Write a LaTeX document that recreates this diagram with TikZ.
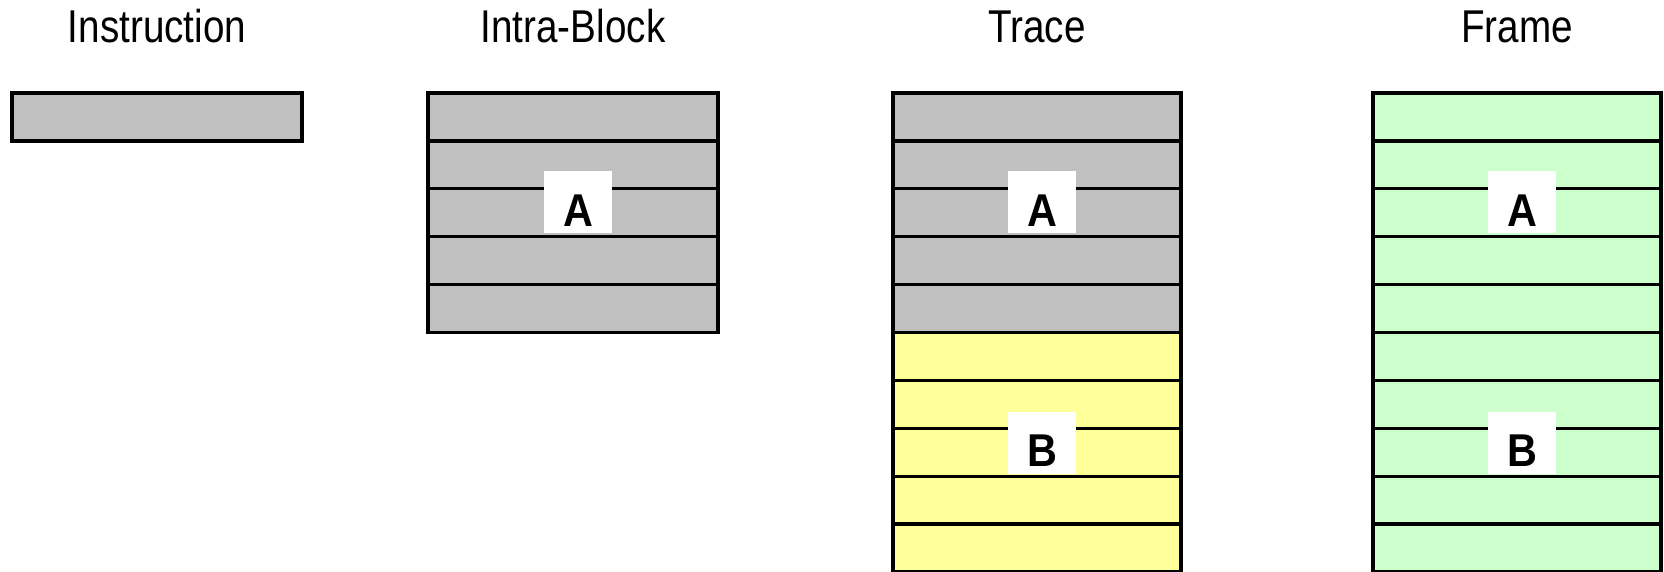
\documentclass[tikz,border=0pt]{standalone}
\usepackage{fontspec}
\setmainfont{Liberation Sans}
\newfontfamily\headfont[FakeStretch=0.84]{Liberation Sans}
\newfontfamily\tagfont[FakeStretch=0.9]{Liberation Sans}
\usetikzlibrary{positioning}

\definecolor{slotgray}{RGB}{192,192,192}
\definecolor{slotyellow}{RGB}{255,255,153}
\definecolor{slotgreen}{RGB}{204,255,204}

\begin{document}
\begin{tikzpicture}[x=0.5pt, y=-0.5pt,
  slot/.style={draw=black, line width=1.65pt},
  heading/.style={anchor=base, inner sep=0pt,
                  font=\headfont\fontsize{23}{23}\selectfont},
  tag/.style={fill=white, inner sep=0pt, minimum width=34pt,
              text height=27.5pt, text depth=3.5pt,
              font=\tagfont\bfseries\fontsize{23}{23}\selectfont}]
  \useasboundingbox (0,0) rectangle (1664,572);

  % Column headings
  \node[heading] (hdinstr) at (157,43)  {Instruction};
  \node[heading] (hdintra) at (573,43)  {Intra-Block};
  \node[heading] (hdtrace) at (1037,43) {Trace};
  \node[heading] (hdframe) at (1517,43) {Frame};

  % Single instruction
  \draw[slot, fill=slotgray] (12,93) rectangle (302,141);

  % Intra-block: one block of five slots
  \foreach \i in {0,...,4} {
    \draw[slot, fill=slotgray] (428,{93+47.9*\i}) rectangle (718,{93+47.9*(\i+1)});
  }

  % Trace: block A then block B
  \foreach \i in {0,...,9} {
    \ifnum\i<5 \def\slotfill{slotgray}\else \def\slotfill{slotyellow}\fi
    \draw[slot, fill=\slotfill] (893,{93+47.9*\i}) rectangle (1181,{93+47.9*(\i+1)});
  }

  % Frame: ten slots
  \foreach \i in {0,...,9} {
    \draw[slot, fill=slotgreen] (1373,{93+47.9*\i}) rectangle (1661,{93+47.9*(\i+1)});
  }

  % Block labels
  \node[tag] (intraA) at (578,202.5)  {A};
  \node[tag] (traceA) at (1042,202.5) {A};
  \node[tag] (traceB) at (1042,442.5) {B};
  \node[tag] (frameA) at (1522,202.5) {A};
  \node[tag] (frameB) at (1522,442.5) {B};
\end{tikzpicture}
\end{document}
